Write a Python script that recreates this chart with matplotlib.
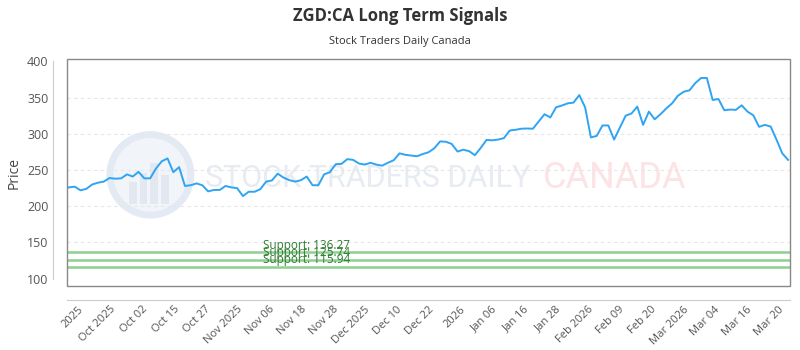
import numpy as np
import matplotlib.pyplot as plt
from matplotlib.patches import Ellipse, Rectangle

plt.rcParams['font.family'] = ['Open Sans', 'DejaVu Sans']

# Price values (one per trading day)
prices = [226, 227, 222, 224, 230, 232.5, 234, 239, 238, 238.5, 244, 241, 247.5, 238.5, 238.5,
          252, 262, 266, 247, 254, 228, 229, 231.5, 229, 220.5, 222.5, 222.5, 228, 226, 225,
          214, 220, 220, 223.5, 234, 235.6, 245, 239.5, 236, 234, 236, 241, 229, 229, 244,
          247, 258, 258.5, 265, 264, 259, 257.5, 260, 257.5, 256, 260, 263.5, 273, 271, 270,
          269, 272, 274.5,
          280, 289.5, 289, 286, 275.5, 278, 276, 270.5, 280.5, 291.5, 291, 292, 294, 304.5,
          305.5, 307, 307.3, 307, 317, 327, 322.5, 336.6, 339, 342, 343, 353.4, 336.6, 295,
          297, 311.5, 311.5, 292, 308.6, 325, 328, 337.5, 312.3, 330.6, 320, 327, 335, 342,
          352.5, 358, 360, 370, 377, 377, 346.6, 348, 332.5, 333.4, 333, 339.3, 330.6, 325.6,
          309.6, 312.3, 310, 292, 273, 264]

tick_labels = ['2025', 'Oct 2025', 'Oct 02', 'Oct 15', 'Oct 27', 'Nov 2025', 'Nov 06', 'Nov 18',
               'Nov 28', 'Dec 2025', 'Dec 10', 'Dec 22', '2026', 'Jan 06', 'Jan 16', 'Jan 28',
               'Feb 2026', 'Feb 09', 'Feb 20', 'Mar 2026', 'Mar 04', 'Mar 16', 'Mar 20']

supports = [136.27, 125.74, 115.94]

fig = plt.figure(figsize=(8, 3.5), dpi=100)
ax = fig.add_axes([0.084, 0.183, 0.904, 0.648])

x = np.arange(len(prices))
ax.set_xlim(-0.3, len(prices) - 0.6)
ax.set_ylim(90, 403)

# watermark (logo circle + text)
ax.add_patch(Ellipse((0.115, 0.49), 0.112, 0.355, transform=ax.transAxes, facecolor='#f1f4f9',
                     edgecolor='#e4eaf3', lw=5, zorder=0))
for bx, bh in [(0.085, 0.10), (0.1, 0.14), (0.115, 0.18), (0.13, 0.13)]:
    ax.add_patch(Rectangle((bx, 0.36), 0.011, bh, transform=ax.transAxes,
                           facecolor='#e2e7f0', edgecolor='none', zorder=0))
ax.text(0.19, 0.475, 'STOCK TRADERS DAILY', transform=ax.transAxes, fontsize=22,
        color='#e7ebf2', family=['Roboto', 'DejaVu Sans'],
        va='center', ha='left', zorder=0)
ax.text(0.658, 0.475, 'CANADA', transform=ax.transAxes, fontsize=26, color='#fce3e6',
        family=['Roboto', 'DejaVu Sans'], va='center', ha='left', zorder=0)

for v in [150, 200, 250, 300, 350]:
    ax.axhline(v, color='#e6e6e6', lw=0.8, ls=(0, (3, 3)), zorder=1)

for s in supports:
    ax.axhline(s, color='#8fcf8f', lw=1.8, zorder=2)
    ax.text(33.5, s + 1, f'Support: {s:.2f}', color='#2e7d32', fontsize=8.5, va='bottom', zorder=3)

ax.plot(x, prices, color='#2fa4f3', lw=1.4, zorder=4)

# frame around plot
ax.add_patch(Rectangle((0, 0), 1, 1, transform=ax.transAxes, fill=False,
                       edgecolor='#888888', lw=1, zorder=5, clip_on=False))

for sp in ['top', 'right']:
    ax.spines[sp].set_visible(False)
for sp in ['left', 'bottom']:
    ax.spines[sp].set_position(('outward', 10))
    ax.spines[sp].set_color('#cccccc')

ax.set_yticks([100, 150, 200, 250, 300, 350, 400])
ax.spines['left'].set_bounds(100, 400)
ax.set_xticks(np.linspace(1.6, 122.3, len(tick_labels)))
ax.set_xticklabels(tick_labels, rotation=45, ha='right', rotation_mode='anchor', fontsize=8)
ax.tick_params(axis='both', length=0, colors='#555555')
ax.tick_params(axis='y', labelsize=9)
ax.tick_params(axis='x', pad=3)
ax.set_ylabel('Price', color='#444444', fontsize=10)

fig.suptitle('ZGD:CA Long Term Signals', x=0.5, y=0.98, fontsize=12, fontweight='bold', color='#333333')
fig.text(0.5, 0.875, 'Stock Traders Daily Canada', ha='center', fontsize=8, color='#333333')

fig.savefig('out.png', dpi=100)
